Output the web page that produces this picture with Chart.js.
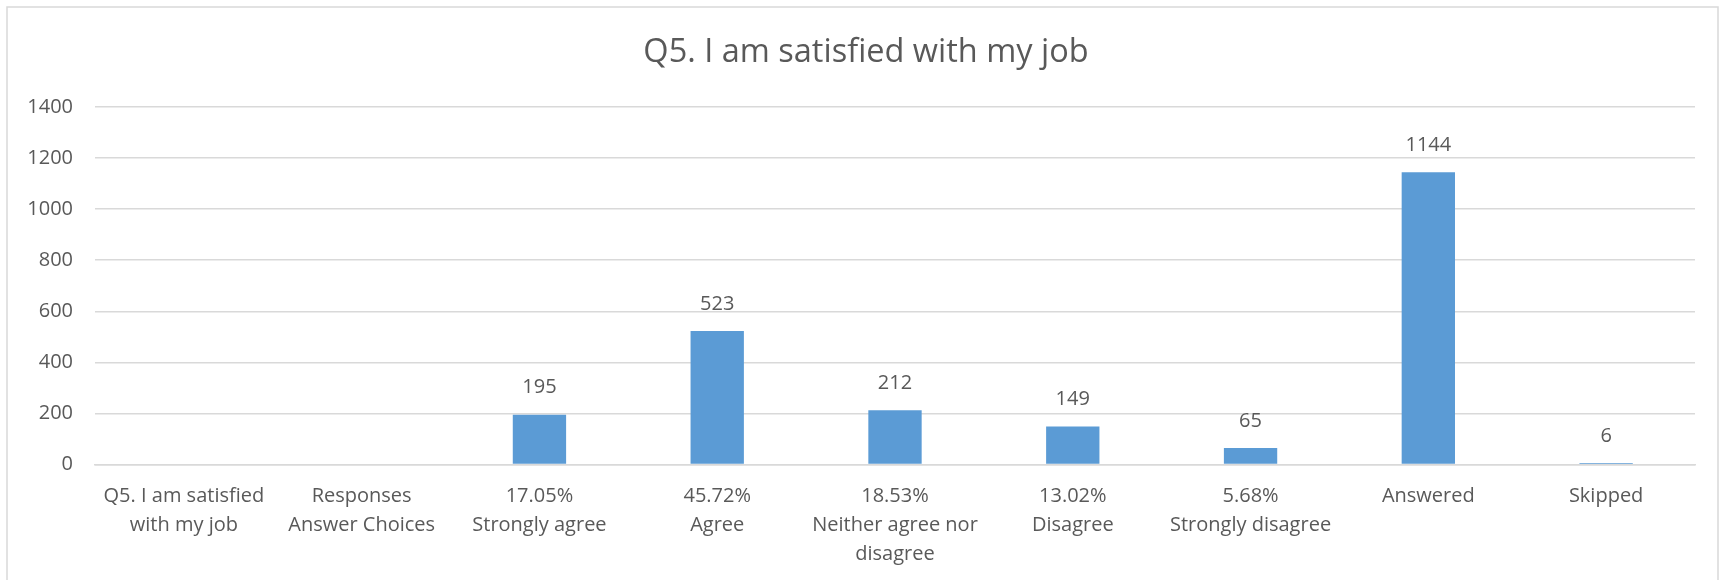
<!DOCTYPE html>
<html>
<head>
<meta charset="utf-8">
<script src="https://cdn.jsdelivr.net/npm/chart.js@4.4.1/dist/chart.umd.min.js"></script>
<style>
  html, body { margin: 0; padding: 0; background: #fff; }
  #wrap { width: 1726px; height: 580px; position: relative; }
</style>
</head>
<body>
<div id="wrap"><canvas id="q5-chart" width="1726" height="580"></canvas></div>
<script>
// Survey counts for Q5
var categories = [
  ['Q5. I am satisfied', 'with my job'],
  ['Responses', 'Answer Choices'],
  ['17.05%', 'Strongly agree'],
  ['45.72%', 'Agree'],
  ['18.53%', 'Neither agree nor', 'disagree'],
  ['13.02%', 'Disagree'],
  ['5.68%', 'Strongly disagree'],
  'Answered',
  'Skipped'
];
var counts = [null, null, 195, 523, 212, 149, 65, 1144, 6];
var yTicks = [0, 200, 400, 600, 800, 1000, 1200, 1400];
var chartTitle = 'Q5. I am satisfied with my job';

var textColor = '#595959';
var gridColor = '#D9D9D9';
var barColor = '#5B9BD5';

// value labels above each bar
var valueLabels = {
  id: 'valueLabels',
  afterDatasetsDraw: function (chart) {
    var ctx = chart.ctx;
    var meta = chart.getDatasetMeta(0);
    ctx.save();
    ctx.font = '20px "Open Sans"';
    ctx.fillStyle = textColor;
    ctx.textAlign = 'center';
    ctx.textBaseline = 'middle';
    meta.data.forEach(function (bar, i) {
      var v = counts[i];
      if (v === null) return;
      ctx.fillText(String(v), bar.x, bar.y - 27);
    });
    ctx.restore();
  }
};

// outer frame and title, centred on the whole canvas
var frame = {
  id: 'frame',
  beforeDraw: function (chart) {
    var ctx = chart.ctx;
    ctx.save();
    ctx.strokeStyle = gridColor;
    ctx.lineWidth = 1.5;
    ctx.strokeRect(7, 7, 1711, 620);
    ctx.font = '32.5px "Open Sans"';
    ctx.fillStyle = textColor;
    ctx.textAlign = 'center';
    ctx.textBaseline = 'middle';
    ctx.fillText(chartTitle, chart.width / 2 + 3, 53);
    ctx.restore();
  }
};

var ctx = document.getElementById('q5-chart').getContext('2d');

var myChart = new Chart(ctx, {
  type: 'bar',
  data: {
    labels: categories,
    datasets: [{
      label: 'Q5',
      data: counts,
      backgroundColor: barColor,
      borderWidth: 0,
      categoryPercentage: 1,
      barPercentage: 0.3
    }]
  },
  options: {
    responsive: false,
    animation: false,
    layout: {
      padding: { top: 107, right: 31, bottom: 0, left: 0 }
    },
    plugins: {
      legend: { display: false },
      tooltip: { enabled: false },
      title: { display: false }
    },
    scales: {
      x: {
        afterFit: function (scale) { scale.height = 115.5; },
        grid: { display: false, drawTicks: false },
        border: { color: gridColor, width: 1.5 },
        ticks: {
          color: textColor,
          font: { family: '"Open Sans"', size: 20, lineHeight: 1.45 },
          padding: 17,
          maxRotation: 0,
          autoSkip: false
        }
      },
      y: {
        min: 0,
        max: 1400,
        afterBuildTicks: function (scale) {
          scale.ticks = yTicks.map(function (v) { return { value: v }; });
        },
        afterFit: function (scale) { scale.width = 95; },
        grid: { color: gridColor, lineWidth: 1.5, drawTicks: false },
        border: { display: false },
        ticks: {
          color: textColor,
          font: { family: '"Open Sans"', size: 20 },
          padding: 22,
          callback: function (v) { return String(v); }
        }
      }
    }
  },
  plugins: [frame, valueLabels]
});
</script>
</body>
</html>
